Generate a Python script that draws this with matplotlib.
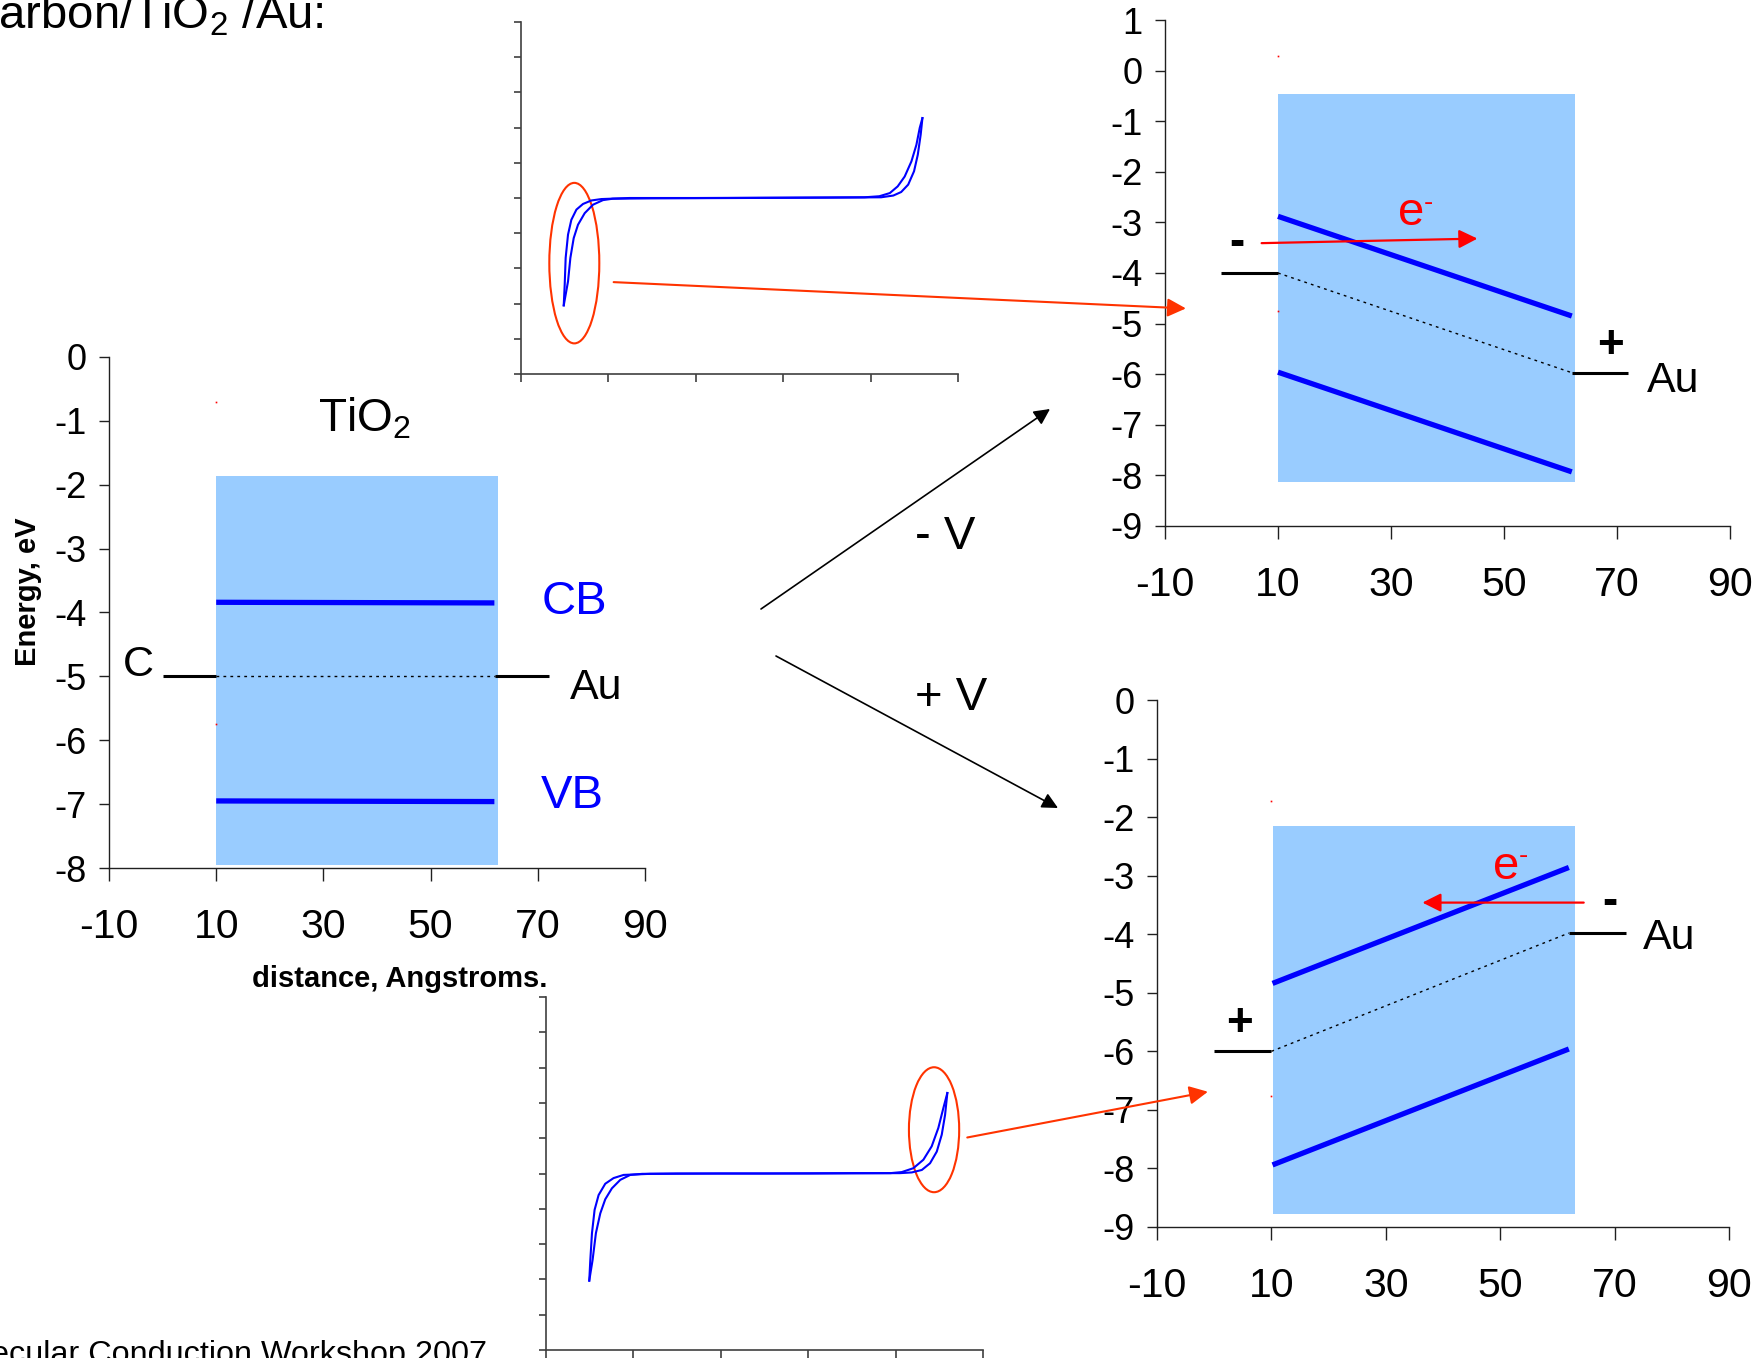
import matplotlib
matplotlib.use('Agg')
import matplotlib.pyplot as plt
from matplotlib.patches import Ellipse, ConnectionPatch, FancyArrowPatch

plt.rcParams['font.family'] = ['Liberation Sans', 'DejaVu Sans']
plt.rcParams['mathtext.fontset'] = 'custom'
plt.rcParams['mathtext.rm'] = 'Liberation Sans'
plt.rcParams['mathtext.default'] = 'regular'
plt.rcParams['axes.unicode_minus'] = False

W, H = 1765, 1358

# ---------------- data ----------------
x_ticks = [-10, 10, 30, 50, 70, 90]

# Panel A: zero bias (left)
a_yticks = [0, -1, -2, -3, -4, -5, -6, -7, -8]
a_gap_x = [10, 62.6]
a_gap_bottom = -7.95
a_gap_top = -1.87
a_cb_x = [10, 61.9]
a_cb_y = [-3.84, -3.85]
a_vb_x = [10, 61.9]
a_vb_y = [-6.95, -6.96]
a_ef_x = [10, 62]
a_ef_y = [-5.0, -5.0]
a_left_x = [0, 10]
a_left_y = [-5.0, -5.0]
a_right_x = [62, 72]
a_right_y = [-5.0, -5.0]
a_dots_y = [-0.71, -5.74]

# Panel B: - V (top right)
b_yticks = [1, 0, -1, -2, -3, -4, -5, -6, -7, -8, -9]
b_gap_x = [10, 62.5]
b_gap_bottom = -8.13
b_gap_top = -0.47
b_cb_x = [10, 62]
b_cb_y = [-2.88, -4.85]
b_vb_x = [10, 62]
b_vb_y = [-5.96, -7.93]
b_ef_x = [10, 62]
b_ef_y = [-4.0, -5.97]
b_left_x = [0, 10]
b_left_y = [-4.0, -4.0]
b_right_x = [62, 72]
b_right_y = [-5.97, -5.97]
b_dots_y = [0.28, -4.76]
b_e_arrow_x = [7.1, 45.3]
b_e_arrow_y = [-3.41, -3.32]

# Panel C: + V (bottom right)
c_yticks = [0, -1, -2, -3, -4, -5, -6, -7, -8, -9]
c_gap_x = [10.3, 63.1]
c_gap_bottom = -8.78
c_gap_top = -2.16
c_cb_x = [10.2, 62]
c_cb_y = [-4.84, -2.86]
c_vb_x = [10.2, 62]
c_vb_y = [-7.94, -5.96]
c_ef_x = [10, 62]
c_ef_y = [-6.0, -3.98]
c_left_x = [0, 10]
c_left_y = [-6.0, -6.0]
c_right_x = [62, 72]
c_right_y = [-3.98, -3.98]
c_dots_y = [-1.72, -6.76]
c_e_arrow_x = [64.6, 36.4]
c_e_arrow_y = [-3.46, -3.46]

# I-V curve insets (arbitrary units)
ivt_a_x = [0.489, 0.50, 0.511, 0.538, 0.576, 0.634, 0.709, 0.805, 0.92, 1.24, 2.0, 3.0,
           3.93, 4.10, 4.22, 4.31, 4.39, 4.467, 4.524, 4.562, 4.593]
ivt_a_y = [1.95, 2.54, 3.30, 3.96, 4.38, 4.67, 4.83, 4.93, 4.97, 5.0, 5.0, 5.01,
           5.02, 5.05, 5.14, 5.33, 5.61, 6.04, 6.51, 6.99, 7.27]
ivt_b_x = [4.593, 4.573, 4.54, 4.497, 4.43, 4.35, 4.26, 4.12, 3.5, 2.5, 1.5, 1.05,
           0.938, 0.824, 0.729, 0.652, 0.603, 0.565, 0.538, 0.489]
ivt_b_y = [7.27, 6.80, 6.23, 5.76, 5.38, 5.17, 5.07, 5.02, 5.01, 5.0, 4.99, 4.98,
           4.94, 4.81, 4.57, 4.24, 3.86, 3.30, 2.63, 1.95]

ivb_a_x = [0.495, 0.507, 0.526, 0.556, 0.602, 0.678, 0.773, 0.888, 1.19, 2.0, 3.0,
           3.94, 4.07, 4.203, 4.318, 4.413, 4.489, 4.546, 4.592]
ivb_a_y = [1.965, 2.55, 3.31, 3.97, 4.39, 4.71, 4.87, 4.96, 4.99, 5.0, 5.0,
           5.01, 5.04, 5.15, 5.39, 5.77, 6.29, 6.85, 7.28]
ivb_b_x = [4.592, 4.566, 4.528, 4.471, 4.394, 4.30, 4.185, 4.05, 3.5, 2.5, 1.5, 1.10,
           0.964, 0.85, 0.754, 0.678, 0.621, 0.571, 0.533, 0.495]
ivb_b_y = [7.28, 6.66, 6.10, 5.62, 5.29, 5.10, 5.03, 5.01, 5.01, 5.0, 5.0, 4.99,
           4.96, 4.82, 4.58, 4.27, 3.87, 3.31, 2.55, 1.965]

# ---------------- styles ----------------
GAP = '#99CCFF'
BLUE = '#0000FF'
RED = '#FF0000'
ORANGE = '#FF3300'
SPINE = '#202020'

fig = plt.figure(figsize=(W / 100, H / 100), dpi=100)


def rect_px(x0, y0, x1, y1):
    return [x0 / W, 1 - y1 / H, (x1 - x0) / W, (y1 - y0) / H]


def fp(x, y):
    return (x / W, 1 - y / H)


def style_energy(ax, ylim, yticks):
    ax.set_xlim(-10, 90)
    ax.set_ylim(*ylim)
    ax.set_xticks(x_ticks)
    ax.set_yticks(yticks)
    for s in ['top', 'right']:
        ax.spines[s].set_visible(False)
    for s in ['left', 'bottom']:
        ax.spines[s].set_linewidth(1.0)
        ax.spines[s].set_color(SPINE)
    ax.tick_params(axis='x', labelsize=29.5, length=9, width=1, pad=20, color=SPINE)
    ax.tick_params(axis='y', labelsize=26, length=7, width=1, pad=9, color=SPINE)
    ax.patch.set_alpha(0)


def draw_bands(ax, gap_x, gb, gt, cbx, cby, vbx, vby, efx, efy, lx, ly, rx, ry, dots_y):
    ax.fill_between(gap_x, [gb, gb], [gt, gt], color=GAP, lw=0, zorder=1)
    ax.plot(cbx, cby, color=BLUE, lw=3.8, solid_capstyle='butt', zorder=3)
    ax.plot(vbx, vby, color=BLUE, lw=3.8, solid_capstyle='butt', zorder=3)
    ax.plot(efx, efy, color='black', lw=1.0, ls=(0, (2, 3)), zorder=3)
    ax.plot(lx, ly, color='black', lw=2.2, solid_capstyle='butt', zorder=3)
    ax.plot(rx, ry, color='black', lw=2.2, solid_capstyle='butt', zorder=3)
    ax.plot([10] * len(dots_y), dots_y, ls='none', marker='s', ms=1.2, color=RED, mew=0, zorder=2)


def style_iv(ax):
    ax.set_xlim(0, 5)
    ax.set_ylim(0, 10)
    ax.set_xticks(range(0, 6))
    ax.set_yticks(range(0, 11))
    ax.set_xticklabels([])
    ax.set_yticklabels([])
    for s in ['top', 'right']:
        ax.spines[s].set_visible(False)
    for s in ['left', 'bottom']:
        ax.spines[s].set_linewidth(1.2)
        ax.spines[s].set_color('#404040')
    ax.tick_params(axis='x', length=6, width=1.2, color='#404040')
    ax.tick_params(axis='y', length=5, width=1.2, color='#404040')
    ax.patch.set_alpha(0)


def e_label(ax, x, y):
    ax.text(x, y, 'e', fontsize=34, color=RED, ha='left', va='baseline')
    ax.annotate('-', xy=(x, y), xytext=(18.5, 11), textcoords='offset points',
                fontsize=20, color=RED, ha='left', va='baseline')


# ---------------- Panel A ----------------
ax_a = fig.add_axes(rect_px(109, 357, 645, 868))
style_energy(ax_a, (-8, 0), a_yticks)
draw_bands(ax_a, a_gap_x, a_gap_bottom, a_gap_top, a_cb_x, a_cb_y, a_vb_x, a_vb_y,
           a_ef_x, a_ef_y, a_left_x, a_left_y, a_right_x, a_right_y, a_dots_y)
ax_a.text(29.0, -1.17, 'TiO$_2$', fontsize=33, ha='left', va='baseline')
ax_a.text(70.8, -4.02, 'CB', fontsize=34, color=BLUE, ha='left', va='baseline')
ax_a.text(70.6, -7.06, 'VB', fontsize=34, color=BLUE, ha='left', va='baseline')
ax_a.text(-1.7, -5.0, 'C', fontsize=31, ha='right', va='baseline')
ax_a.text(76.0, -5.35, 'Au', fontsize=31, ha='left', va='baseline')
fig.text(*fp(28, 592), 'Energy, eV', fontsize=21, fontweight='bold', rotation=90,
         ha='center', va='center')
fig.text(*fp(400, 979), 'distance, Angstroms.', fontsize=21, fontweight='bold',
         ha='center', va='center')

# ---------------- Panel B ----------------
ax_b = fig.add_axes(rect_px(1165, 20, 1730, 526))
style_energy(ax_b, (-9, 1), b_yticks)
draw_bands(ax_b, b_gap_x, b_gap_bottom, b_gap_top, b_cb_x, b_cb_y, b_vb_x, b_vb_y,
           b_ef_x, b_ef_y, b_left_x, b_left_y, b_right_x, b_right_y, b_dots_y)
ax_b.text(2.8, -3.41, '-', fontsize=33, fontweight='bold', ha='center', va='center')
ax_b.text(68.9, -5.44, '+', fontsize=33, fontweight='bold', ha='center', va='center')
ax_b.text(75.3, -6.35, 'Au', fontsize=31, ha='left', va='baseline')
e_label(ax_b, 31.3, -3.05)
ax_b.add_patch(FancyArrowPatch((b_e_arrow_x[0], b_e_arrow_y[0]), (b_e_arrow_x[1], b_e_arrow_y[1]),
                               arrowstyle='-|>', mutation_scale=28, color=RED, lw=1.6,
                               shrinkA=0, shrinkB=0, zorder=4))

# ---------------- Panel C ----------------
ax_c = fig.add_axes(rect_px(1157, 700, 1729, 1227))
style_energy(ax_c, (-9, 0), c_yticks)
draw_bands(ax_c, c_gap_x, c_gap_bottom, c_gap_top, c_cb_x, c_cb_y, c_vb_x, c_vb_y,
           c_ef_x, c_ef_y, c_left_x, c_left_y, c_right_x, c_right_y, c_dots_y)
ax_c.text(4.5, -5.53, '+', fontsize=33, fontweight='bold', ha='center', va='center')
ax_c.text(69.2, -3.45, '-', fontsize=33, fontweight='bold', ha='center', va='center')
ax_c.text(74.9, -4.26, 'Au', fontsize=31, ha='left', va='baseline')
e_label(ax_c, 48.8, -3.05)
ax_c.add_patch(FancyArrowPatch((c_e_arrow_x[0], c_e_arrow_y[0]), (c_e_arrow_x[1], c_e_arrow_y[1]),
                               arrowstyle='-|>', mutation_scale=28, color=RED, lw=1.6,
                               shrinkA=0, shrinkB=0, zorder=4))

# ---------------- I-V insets ----------------
ax_ivt = fig.add_axes(rect_px(521, 22, 958, 374))
style_iv(ax_ivt)
ax_ivt.plot(ivt_a_x, ivt_a_y, color=BLUE, lw=1.5, solid_joinstyle='round')
ax_ivt.plot(ivt_b_x, ivt_b_y, color=BLUE, lw=1.5, solid_joinstyle='round')
ax_ivt.add_patch(Ellipse((0.61, 3.15), 0.572, 4.56, fill=False, ec=ORANGE, lw=1.5, clip_on=False))

ax_ivb = fig.add_axes(rect_px(546, 997, 983, 1350))
style_iv(ax_ivb)
ax_ivb.plot(ivb_a_x, ivb_a_y, color=BLUE, lw=1.5, solid_joinstyle='round')
ax_ivb.plot(ivb_b_x, ivb_b_y, color=BLUE, lw=1.5, solid_joinstyle='round')
ax_ivb.add_patch(Ellipse((4.44, 6.24), 0.575, 3.54, fill=False, ec=ORANGE, lw=1.5, clip_on=False))

# connecting arrows
con1 = ConnectionPatch(xyA=(1.06, 2.61), coordsA=ax_ivt.transData,
                       xyB=(-6.3, -4.7), coordsB=ax_b.transData,
                       arrowstyle='-|>', mutation_scale=28, color=ORANGE, lw=1.5,
                       shrinkA=0, shrinkB=0)
fig.add_artist(con1)
con2 = ConnectionPatch(xyA=(4.82, 6.02), coordsA=ax_ivb.transData,
                       xyB=(-1.1, -6.69), coordsB=ax_c.transData,
                       arrowstyle='-|>', mutation_scale=28, color=ORANGE, lw=1.5,
                       shrinkA=0, shrinkB=0)
fig.add_artist(con2)

# bias arrows
arr1 = FancyArrowPatch(fp(761, 609), fp(1050, 409), transform=fig.transFigure,
                       arrowstyle='-|>', mutation_scale=24, color='black', lw=1.2,
                       shrinkA=0, shrinkB=0)
fig.add_artist(arr1)
arr2 = FancyArrowPatch(fp(776, 656), fp(1058, 808), transform=fig.transFigure,
                       arrowstyle='-|>', mutation_scale=24, color='black', lw=1.2,
                       shrinkA=0, shrinkB=0)
fig.add_artist(arr2)
fig.text(*fp(945, 537), '- V', fontsize=34, ha='center', va='center')
fig.text(*fp(951, 698), '+ V', fontsize=34, ha='center', va='center')

# cropped slide title and footer (cut off at the figure edges as in the original)
fig.text(*fp(324, 29), 'carbon/TiO$_2$ /Au:', fontsize=34, ha='right', va='baseline')
fig.text(*fp(487, 1363), 'Molecular Conduction Workshop 2007', fontsize=23.3,
         ha='right', va='baseline')

fig.savefig('out.png', dpi=100)
